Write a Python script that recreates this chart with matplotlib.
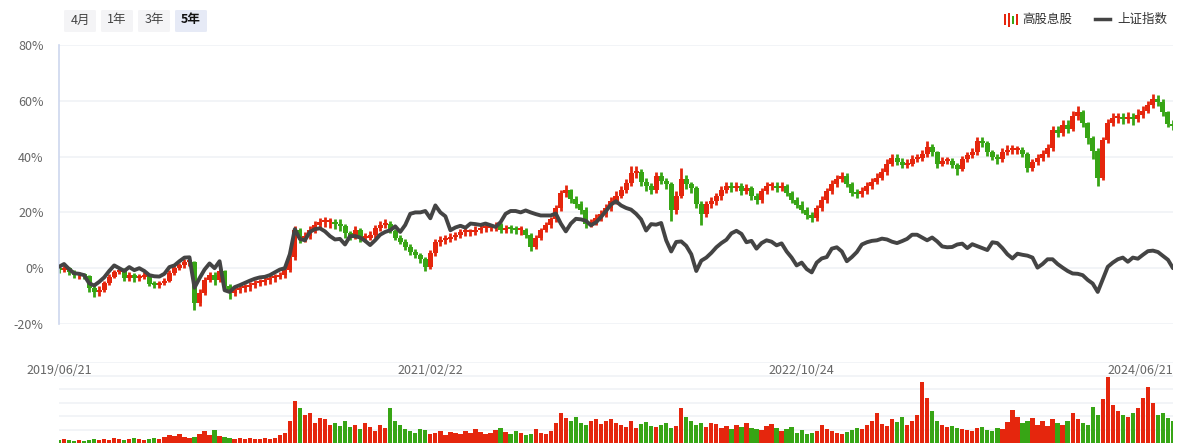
import matplotlib
matplotlib.use('Agg')
import matplotlib.pyplot as plt
import matplotlib.transforms as mtransforms
from matplotlib.patches import FancyBboxPatch, Rectangle
from matplotlib.lines import Line2D
import numpy as np

plt.rcParams['font.family'] = ['Noto Sans CJK SC', 'DejaVu Sans']

# ---------------- data (percent change since start) ----------------
stock_close = [
    -0.7, 0.0, -1.5, -2.5, -2.5, -2.9, -7.0, -8.5, -7.9, -5.4,
    -3.0, -1.5, -0.7, -3.6, -2.5, -3.6, -3.0, -2.5, -5.5, -6.1,
    -5.4, -4.5, -1.8, 0.0, 1.0, 2.1, 2.1, -12.5, -8.9, -4.3,
    -2.5, -4.3, -1.0, -6.5, -8.9, -7.9, -7.1, -6.8, -6.1, -5.4,
    -4.8, -4.3, -3.6, -3.0, -2.5, -0.7, 4.0, 13.6, 11.0, 11.5,
    13.6, 15.5, 16.4, 16.4, 16.4, 15.8, 15.0, 12.5, 11.5, 13.6,
    11.0, 11.0, 12.0, 14.3, 15.5, 16.0, 13.5, 11.0, 9.5, 7.5,
    5.8, 4.6, 3.2, 0.4, 5.4, 9.3, 10.0, 10.5, 11.1, 11.8,
    12.9, 12.9, 12.9, 13.6, 14.3, 14.5, 14.6, 15.4, 13.6, 14.3,
    14.0, 13.6, 13.6, 12.0, 7.5, 10.7, 13.6, 15.5, 17.5, 21.4,
    26.8, 27.9, 24.8, 23.0, 21.0, 16.0, 16.4, 18.0, 19.6, 21.4,
    24.0, 26.0, 28.0, 30.5, 34.3, 34.6, 31.0, 29.3, 28.0, 33.2,
    31.4, 30.0, 20.7, 26.0, 32.0, 30.0, 28.6, 23.0, 19.5, 22.9,
    24.0, 25.7, 28.0, 29.6, 28.6, 29.6, 27.5, 28.6, 25.8, 24.3,
    27.5, 29.3, 29.6, 28.6, 29.6, 27.0, 24.5, 22.8, 21.0, 19.0,
    17.9, 21.5, 24.5, 27.5, 30.0, 32.0, 33.0, 30.0, 27.1, 26.5,
    27.5, 29.3, 31.0, 32.5, 34.5, 37.5, 39.5, 38.2, 37.1, 37.5,
    39.0, 39.6, 41.0, 43.5, 41.5, 37.5, 38.5, 38.6, 37.0, 35.5,
    39.0, 40.4, 41.5, 45.7, 45.0, 41.5, 40.0, 39.0, 41.5, 42.5,
    42.5, 42.5, 41.0, 36.0, 38.0, 39.5, 41.0, 43.0, 49.5, 48.5,
    51.5, 50.0, 54.5, 56.0, 52.0, 46.5, 42.0, 32.5, 46.0, 52.0,
    53.9, 53.9, 53.6, 53.9, 53.6, 55.0, 56.5, 58.5, 60.5, 59.5,
    56.0, 51.8, 51.0,
]

stock_high = [
    0.8, 1.0, 0.5, -0.8, -1.5, -1.8, -2.5, -6.0, -6.5, -4.5,
    -2.0, -0.5, 0.5, 0.0, -1.5, -1.8, -2.0, -1.5, -2.0, -4.5,
    -4.5, -3.5, -0.8, 1.0, 2.0, 3.2, 3.0, 2.5, -7.5, -3.0,
    -1.5, -1.5, 0.0, -0.5, -5.5, -6.8, -6.0, -5.5, -5.0, -4.2,
    -3.8, -3.2, -2.5, -2.0, -1.5, 0.5, 5.5, 15.0, 14.5, 13.0,
    15.0, 17.0, 18.0, 18.3, 18.0, 17.8, 17.5, 16.0, 13.5, 15.0,
    14.5, 12.5, 13.5, 15.5, 17.0, 17.5, 17.0, 14.0, 12.0, 10.5,
    8.5, 7.0, 5.5, 4.0, 6.5, 10.5, 11.5, 12.0, 12.5, 13.0,
    14.0, 14.3, 14.0, 15.0, 15.5, 16.0, 16.0, 16.5, 16.3, 15.5,
    15.5, 15.0, 15.0, 14.5, 12.5, 11.8, 14.5, 16.5, 18.5, 22.5,
    28.0, 29.8, 28.5, 25.8, 24.0, 22.0, 17.8, 19.5, 21.0, 23.0,
    25.5, 27.5, 29.5, 32.0, 36.5, 36.5, 35.5, 32.5, 30.5, 34.5,
    34.5, 32.5, 31.0, 27.5, 36.0, 33.5, 31.0, 29.5, 24.0, 24.0,
    25.5, 27.0, 29.5, 31.0, 30.8, 31.0, 30.5, 30.0, 29.5, 27.0,
    28.8, 30.8, 31.0, 30.8, 31.0, 30.3, 27.8, 25.5, 24.0, 22.0,
    20.0, 22.8, 25.8, 28.8, 31.5, 33.5, 34.5, 34.0, 31.0, 28.5,
    29.0, 30.8, 32.5, 34.0, 36.0, 39.0, 41.0, 40.8, 39.5, 39.0,
    40.5, 41.0, 42.5, 45.5, 44.5, 42.0, 40.0, 40.0, 39.5, 37.8,
    40.3, 41.8, 43.0, 47.0, 47.0, 45.5, 42.5, 41.0, 43.0, 44.0,
    44.0, 43.8, 43.3, 41.5, 39.3, 41.0, 42.3, 44.5, 51.0, 51.0,
    53.0, 53.0, 56.3, 58.0, 56.8, 52.5, 47.5, 43.0, 47.0, 53.5,
    55.5, 55.8, 55.5, 56.0, 55.5, 57.0, 58.0, 60.0, 62.5, 62.0,
    60.5, 56.5, 53.0,
]

stock_low = [
    -1.8, -1.5, -2.5, -3.5, -3.8, -4.0, -8.5, -10.5, -10.0, -8.5,
    -6.0, -3.5, -2.0, -4.5, -4.5, -4.8, -4.5, -4.0, -6.5, -7.0,
    -7.0, -6.0, -5.0, -2.5, -0.8, 0.2, 0.8, -15.0, -13.5, -9.5,
    -5.0, -6.0, -5.0, -8.0, -11.0, -10.0, -9.0, -8.5, -8.0, -7.0,
    -6.5, -6.0, -5.5, -4.8, -4.0, -3.5, -1.5, 3.0, 9.0, 9.5,
    10.5, 12.5, 14.5, 14.8, 14.5, 14.0, 13.5, 11.0, 10.0, 10.5,
    9.5, 9.5, 10.0, 11.0, 13.5, 14.5, 12.5, 10.0, 8.5, 6.5,
    4.8, 3.5, 2.0, -1.0, -0.2, 4.5, 8.0, 8.8, 9.5, 10.0,
    10.8, 11.5, 11.5, 12.0, 12.5, 13.0, 13.2, 13.5, 12.5, 12.5,
    12.5, 12.3, 12.0, 10.8, 6.0, 6.8, 10.0, 12.8, 14.5, 16.5,
    20.5, 25.5, 23.5, 21.5, 19.5, 14.5, 14.8, 15.5, 17.0, 18.5,
    20.5, 23.0, 25.0, 27.0, 29.5, 32.5, 29.5, 27.8, 26.5, 27.0,
    30.0, 28.5, 17.0, 19.5, 25.0, 28.5, 27.0, 21.5, 15.5, 18.5,
    21.5, 22.8, 24.5, 27.0, 27.2, 27.5, 26.3, 26.5, 24.5, 23.0,
    23.5, 26.5, 28.0, 27.3, 27.5, 25.8, 23.2, 21.5, 19.8, 17.8,
    16.5, 17.0, 20.5, 23.5, 26.5, 29.0, 31.0, 29.0, 26.0, 25.3,
    25.5, 26.5, 28.3, 30.0, 31.5, 33.5, 36.5, 37.0, 36.0, 36.0,
    36.5, 38.0, 38.5, 40.0, 40.3, 36.0, 36.5, 37.3, 35.8, 33.5,
    34.8, 38.0, 39.5, 40.5, 43.5, 40.3, 38.8, 37.5, 38.0, 40.5,
    41.0, 41.0, 39.8, 34.5, 35.0, 37.0, 38.5, 40.0, 42.0, 47.0,
    47.5, 48.5, 49.0, 53.0, 50.5, 44.5, 39.0, 29.5, 31.5, 45.0,
    51.0, 52.0, 51.8, 52.0, 51.5, 52.5, 54.0, 55.5, 57.5, 58.0,
    54.5, 50.5, 49.5,
]

index_close = [
    0.5, 1.5, -0.3, -1.8, -2.0, -2.5, -5.4, -6.2, -4.9, -3.3,
    -1.0, 1.0, 0.0, -1.0, 0.4, -0.7, 0.0, -1.0, -2.5, -2.9,
    -3.0, -2.0, 0.4, 1.0, 2.5, 3.8, 3.9, -7.0, -3.6, -0.5,
    1.7, 0.0, 2.5, -7.9, -8.5, -6.8, -6.1, -5.3, -4.5, -3.8,
    -3.3, -3.1, -2.5, -1.5, -0.5, 0.0, 5.0, 14.0, 10.5, 10.0,
    13.0, 14.0, 14.3, 13.2, 11.5, 10.3, 10.5, 8.5, 11.5, 11.5,
    11.0, 9.8, 8.3, 10.0, 12.0, 13.0, 13.6, 15.0, 13.0, 15.5,
    19.5, 20.0, 20.0, 20.5, 17.9, 22.5, 20.0, 18.6, 13.6, 14.6,
    15.2, 14.5, 16.0, 15.8, 15.5, 16.0, 15.4, 14.8, 16.5, 19.5,
    20.5, 20.5, 20.0, 20.7, 20.0, 19.4, 18.9, 18.9, 18.9, 19.6,
    16.0, 13.2, 16.0, 17.7, 17.5, 17.0, 15.4, 16.4, 18.3, 20.5,
    22.8, 24.0, 22.5, 21.6, 21.0, 19.5, 17.5, 13.5, 15.8, 15.6,
    16.2, 10.0, 6.0, 9.4, 9.6, 8.0, 5.0, -1.0, 2.7, 3.8,
    5.5, 7.5, 9.0, 10.2, 12.5, 13.4, 12.3, 9.3, 9.8, 7.0,
    9.0, 10.0, 9.5, 8.2, 8.9, 6.0, 3.8, 1.0, 2.0, -0.3,
    -1.5, 2.0, 3.5, 4.0, 7.0, 7.5, 6.0, 2.5, 4.0, 5.8,
    8.5, 9.3, 9.8, 10.0, 10.6, 10.3, 9.5, 9.0, 9.7, 10.5,
    12.0, 12.0, 11.0, 10.0, 11.0, 9.6, 7.8, 7.5, 7.6, 8.5,
    8.8, 7.2, 8.6, 7.9, 7.2, 6.5, 9.3, 9.0, 7.2, 5.0,
    3.5, 5.2, 4.8, 4.5, 3.8, 0.2, 1.5, 3.2, 3.2, 1.5,
    0.2, -1.0, -1.9, -2.0, -2.5, -4.2, -5.5, -8.5, -4.0, 0.5,
    2.0, 3.2, 3.8, 2.3, 3.8, 3.4, 4.8, 6.1, 6.3, 5.8,
    4.4, 3.0, 0.0,
]

volume = [
    3, 4, 3, 2, 3, 2, 3, 4, 3, 4,
    3, 5, 4, 3, 4, 5, 4, 3, 4, 5,
    4, 6, 8, 7, 9, 6, 5, 6, 9, 12,
    8, 13, 7, 6, 5, 4, 5, 4, 5, 4,
    4, 5, 4, 5, 8, 10, 22, 42, 35, 28,
    30, 20, 25, 24, 18, 20, 17, 22, 16, 18,
    14, 20, 16, 12, 18, 15, 35, 22, 18, 14,
    12, 10, 14, 13, 9, 10, 12, 8, 11, 10,
    9, 12, 10, 14, 11, 9, 10, 13, 15, 11,
    9, 12, 10, 8, 9, 14, 10, 9, 12, 20,
    30, 25, 22, 26, 20, 18, 22, 24, 19, 22,
    24, 20, 18, 16, 22, 15, 19, 21, 17, 16,
    18, 20, 15, 17, 35, 26, 22, 18, 20, 16,
    20, 19, 15, 17, 14, 18, 16, 20, 15, 14,
    13, 17, 19, 15, 12, 14, 16, 10, 13, 9,
    10, 12, 18, 14, 12, 10, 9, 11, 13, 15,
    14, 18, 22, 30, 19, 17, 24, 21, 26, 18,
    22, 28, 61, 45, 32, 22, 18, 16, 17, 15,
    14, 13, 12, 15, 16, 13, 12, 15, 14, 21,
    33, 26, 20, 22, 25, 18, 22, 17, 24, 20,
    18, 22, 30, 24, 20, 18, 36, 28, 44, 66,
    38, 32, 28, 26, 30, 35, 45, 56, 40, 28,
    30, 25, 22,
]

date_labels = ['2019/06/21', '2021/02/22', '2022/10/24', '2024/06/21']
y_ticks = [-20, 0, 20, 40, 60, 80]
buttons = ['4月', '1年', '3年', '5年']
active_button = '5年'
series_names = ['高股息股', '上证指数']

# ---------------- styling ----------------
RED = '#e5260d'
GREEN = '#37a515'
LINE = '#444444'
GRID = '#f0f2f6'
TXT = '#666666'

W, H = 1183, 444
fig = plt.figure(figsize=(W / 100, H / 100), dpi=100)


def fx(px):
    return px / W


def fy(py):
    return 1 - py / H


N = len(stock_close)
x = np.arange(N)
close = np.array(stock_close, dtype=float)
opn = np.concatenate([[0.0], close[:-1]])
up = close >= opn
colors = np.where(up, RED, GREEN)
lo = np.minimum(opn, close)
hgt = np.maximum(np.abs(close - opn), 0.7)

# main axes
ax = fig.add_axes([fx(59), fy(324), fx(1114), 279 / H])
ax.vlines(x, stock_low, stock_high, colors=colors, lw=2.0, zorder=2)
ax.bar(x, hgt, bottom=lo, width=1.0, color=colors, linewidth=0, zorder=2)
ax.plot(x, index_close, color=LINE, lw=2.8, solid_joinstyle='round',
        solid_capstyle='round', zorder=3)
ax.set_xlim(0, N - 1)
ax.set_ylim(-20, 80)
ax.set_yticks(y_ticks)
ax.set_yticklabels([f'{v}%' for v in y_ticks])
ax.tick_params(axis='y', length=0, pad=11, labelsize=9, labelcolor=TXT)
ax.set_xticks([])
ax.yaxis.grid(True, color=GRID, lw=1.2)
ax.set_axisbelow(True)
for s in ['top', 'right', 'bottom']:
    ax.spines[s].set_visible(False)
ax.spines['left'].set_color('#cdd7ee')
ax.spines['left'].set_linewidth(1.2)

# volume axes
axv = fig.add_axes([fx(59), fy(443), fx(1114), 81 / H])
axv.bar(x, volume, width=0.85, color=colors, linewidth=0, zorder=2)
axv.set_xlim(0, N - 1)
axv.set_ylim(0, 81)
axv.set_yticks(np.linspace(0, 81, 7))
axv.set_yticklabels([])
axv.tick_params(length=0)
axv.set_xticks([])
axv.yaxis.grid(True, color=GRID, lw=1.2)
axv.set_axisbelow(True)
for s in axv.spines.values():
    s.set_visible(False)

trans = mtransforms.blended_transform_factory(axv.transData, axv.transAxes)
label_pos = np.linspace(0, N - 1, len(date_labels))
for i, (p, lab) in enumerate(zip(label_pos, date_labels)):
    ha = 'right' if i == len(date_labels) - 1 else 'center'
    axv.text(p, (443 - 370) / 81, lab, transform=trans, ha=ha, va='center',
             fontsize=9, color=TXT, zorder=5)

# buttons
bx0 = 64
for i, b in enumerate(buttons):
    left = bx0 + i * 37
    active = (b == active_button)
    patch = FancyBboxPatch((fx(left), fy(32)), fx(32), 22 / H,
                           boxstyle='round,pad=0,rounding_size=0.002',
                           transform=fig.transFigure,
                           facecolor='#e6eaf6' if active else '#f4f4f6',
                           edgecolor='none')
    fig.patches.append(patch)
    fig.text(fx(left + 16), fy(20), b, ha='center', va='center', fontsize=9,
             color='#111111' if active else '#444444',
             fontweight='bold' if active else 'normal')

# legend
icon_cols = [RED, RED, GREEN, RED]
icon_h = [(14, 25), (13, 27), (16, 24), (14, 25)]
for i, (c, (t, b)) in enumerate(zip(icon_cols, icon_h)):
    fig.patches.append(Rectangle((fx(1004 + i * 4), fy(b)), fx(2.2), (b - t) / H,
                                 transform=fig.transFigure, facecolor=c,
                                 edgecolor='none'))
fig.text(fx(1022), fy(19), series_names[0], ha='left', va='center',
         fontsize=9, color='#333333')
fig.add_artist(Line2D([fx(1095), fx(1110)], [fy(19), fy(19)],
                      transform=fig.transFigure, color=LINE, lw=2.5))
fig.text(fx(1117), fy(19), series_names[1], ha='left', va='center',
         fontsize=9, color='#333333')

fig.savefig('out.png', dpi=100, facecolor='white')
